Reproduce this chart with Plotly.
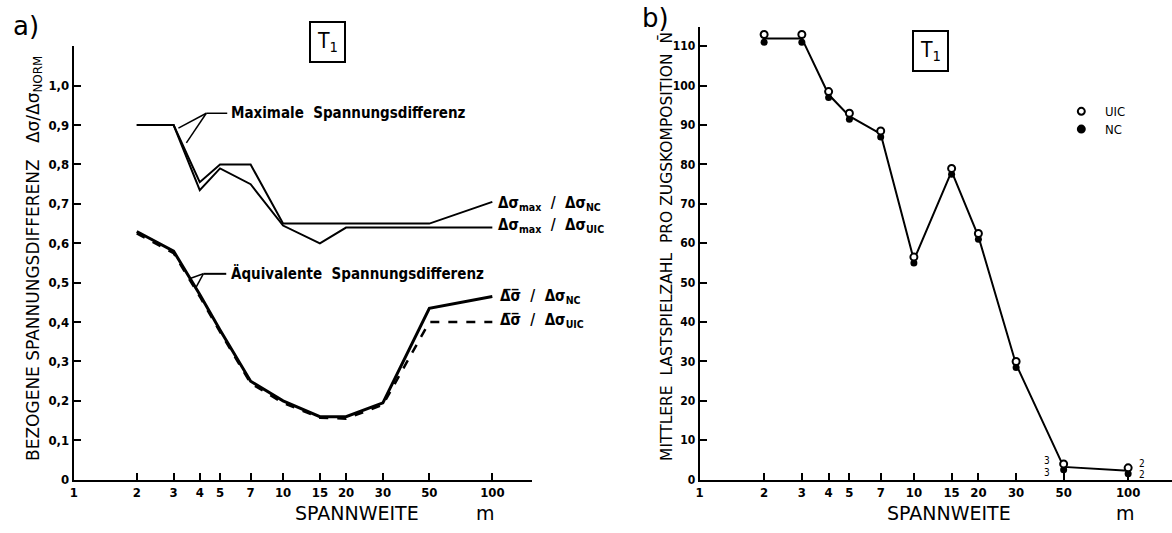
import plotly.graph_objects as go

W, H = 1172, 533

# ---------------- data ----------------
# panel a) bezogene Spannungsdifferenz
span_a = [2, 3, 4, 5, 7, 10, 15, 20, 30, 50, 100]
max_nc = [0.90, 0.90, 0.755, 0.80, 0.80, 0.65, 0.65, 0.65, 0.65, 0.65, 0.705]
max_uic = [0.90, 0.90, 0.735, 0.79, 0.75, 0.645, 0.60, 0.64, 0.64, 0.64, 0.64]
equiv_nc = [0.63, 0.58, 0.47, 0.38, 0.25, 0.20, 0.16, 0.16, 0.195, 0.435, 0.465]
equiv_uic = [0.625, 0.575, 0.465, 0.375, 0.245, 0.195, 0.157, 0.155, 0.19, 0.40, 0.40]

# panel b) mittlere Lastspielzahl pro Zugskomposition
span_b = [2, 3, 4, 5, 7, 10, 15, 20, 30, 50, 100]
n_uic = [113, 113, 98.5, 93, 88.5, 56.5, 79, 62.5, 30, 4, 3]
n_nc = [111, 111, 97, 91.5, 87, 55, 77.5, 61, 28.5, 2.5, 1.5]

x_ticks = [1, 2, 3, 4, 5, 7, 10, 15, 20, 30, 50, 100]
x_ticktext = ["1", "2", "3", "4", "5", "7", "10", "15", "20", "30", "50", "100"]
ya_ticks = [0, 0.1, 0.2, 0.3, 0.4, 0.5, 0.6, 0.7, 0.8, 0.9, 1.0]
ya_ticktext = ["0", "0,1", "0,2", "0,3", "0,4", "0,5", "0,6", "0,7", "0,8", "0,9", "1,0"]
yb_ticks = [0, 10, 20, 30, 40, 50, 60, 70, 80, 90, 100, 110]
yb_ticktext = [str(v) for v in yb_ticks]


def px(x):
    return x / W


def py(y):
    return 1 - y / H


FONT = "DejaVu Sans Condensed"
FONT2 = "DejaVu Sans"
fig = go.Figure()

# ---- panel a traces ----
fig.add_trace(go.Scatter(x=span_a, y=max_nc, mode="lines", line=dict(color="black", width=2),
                         xaxis="x", yaxis="y", showlegend=False))
fig.add_trace(go.Scatter(x=span_a, y=max_uic, mode="lines", line=dict(color="black", width=2),
                         xaxis="x", yaxis="y", showlegend=False))
fig.add_trace(go.Scatter(x=span_a, y=equiv_nc, mode="lines", line=dict(color="black", width=3),
                         xaxis="x", yaxis="y", showlegend=False))
fig.add_trace(go.Scatter(x=span_a, y=equiv_uic, mode="lines",
                         line=dict(color="black", width=2.5, dash="dash"),
                         xaxis="x", yaxis="y", showlegend=False))

# ---- panel b traces ----
n_mean = [(a + b) / 2 for a, b in zip(n_uic, n_nc)]
fig.add_trace(go.Scatter(x=span_b, y=n_mean, mode="lines", line=dict(color="black", width=2),
                         xaxis="x2", yaxis="y2", showlegend=False))
fig.add_trace(go.Scatter(x=span_b, y=n_nc, mode="markers", name="NC",
                         marker=dict(symbol="circle", size=7, color="black"),
                         xaxis="x2", yaxis="y2", showlegend=False))
fig.add_trace(go.Scatter(x=span_b, y=n_uic, mode="markers", name="UIC",
                         marker=dict(symbol="circle", size=7, color="white",
                                     line=dict(color="black", width=2)),
                         xaxis="x2", yaxis="y2", showlegend=False))

axis_common = dict(showgrid=False, zeroline=False, showline=True, linecolor="black", linewidth=2,
                   ticks="inside", ticklen=7, tickwidth=2, tickcolor="black",
                   tickfont=dict(family=FONT, size=13, color="black", weight="bold"))

fig.update_layout(
    width=W, height=H,
    margin=dict(l=0, r=0, t=0, b=0),
    paper_bgcolor="white", plot_bgcolor="white",
    xaxis=dict(type="log", domain=[px(70), px(530)], range=[0, 460 / 210], anchor="y",
               tickvals=x_ticks, ticktext=x_ticktext, **axis_common),
    yaxis=dict(domain=[py(487), py(47)], range=[0, 1.1], anchor="x",
               tickvals=ya_ticks, ticktext=ya_ticktext, **axis_common),
    xaxis2=dict(type="log", domain=[px(698), 1.0], range=[0, 474 / 215], anchor="y2",
                tickvals=x_ticks, ticktext=x_ticktext, **axis_common),
    yaxis2=dict(domain=[py(487), py(27)], range=[0, 115], anchor="x2",
                tickvals=yb_ticks, ticktext=yb_ticktext, ticklabelstandoff=0,
                **axis_common),
    showlegend=False,
)
fig.update_yaxes(tickfont=dict(size=12), selector=dict(anchor="x2"))

ann = []


def text(x, y, t, size=12, xanchor="left", yanchor="middle", angle=0, weight="normal",
         family=FONT):
    ann.append(dict(x=px(x), y=py(y), xref="paper", yref="paper", text=t, showarrow=False,
                    xanchor=xanchor, yanchor=yanchor, textangle=angle, align=xanchor,
                    font=dict(family=family, size=size, color="black", weight=weight)))


# panel labels
text(22, 26, "a)", size=26, xanchor="center", family=FONT2)
text(654, 18, "b)", size=26, xanchor="center", family=FONT2)

# axis titles
text(30, 262, "BEZOGENE SPANNUNGSDIFFERENZ   Δσ/Δσ<sub>NORM</sub>", size=17,
     xanchor="center", angle=-90, family=FONT2)
text(665, 250, "MITTLERE  LASTSPIELZAHL  PRO ZUGSKOMPOSITION  N̄", size=15.5,
     xanchor="center", angle=-90, family=FONT2)
text(354, 521, "SPANNWEITE", size=19, xanchor="center", family=FONT2)
text(483, 521, "m", size=19, xanchor="center", family=FONT2)
text(948, 521, "SPANNWEITE", size=19, xanchor="center", family=FONT2)
text(1125, 521, "m", size=19, xanchor="center", family=FONT2)

# panel a curve labels
text(226, 115, "Maximale  Spannungsdifferenz", size=15, weight="bold")
text(226, 278, "Äquivalente  Spannungsdifferenz", size=15, weight="bold")
text(494, 207, "Δσ<sub>max</sub>  /  Δσ<sub>NC</sub>", size=15, weight="bold")
text(494, 229, "Δσ<sub>max</sub>  /  Δσ<sub>UIC</sub>", size=15, weight="bold")
text(496, 301, "Δ̅σ̅  /  Δσ<sub>NC</sub>", size=15, weight="bold")
text(496, 325, "Δ̅σ̅  /  Δσ<sub>UIC</sub>", size=15, weight="bold")

# legend panel b
text(1103, 113, "UIC", size=13)
text(1103, 131, "NC", size=13)

# small count labels at panel b
text(1047, 468, "3", size=10, xanchor="center")
text(1047, 480, "3", size=10, xanchor="center")
text(1142, 471, "2", size=10, xanchor="center")
text(1142, 482, "2", size=10, xanchor="center")

# T1 boxes
for cx, cy in [(325, 43), (930, 52)]:
    ann.append(dict(x=px(cx), y=py(cy), xref="paper", yref="paper", text="T<sub>1</sub>",
                    showarrow=False, xanchor="center", yanchor="middle",
                    font=dict(family=FONT, size=21, color="black"),
                    bordercolor="black", borderwidth=2, borderpad=6, bgcolor="white"))

fig.update_layout(annotations=ann)

# leader lines (panel a) and legend symbols (panel b)
shapes = []


def seg(x0, y0, x1, y1, w=1.5):
    shapes.append(dict(type="line", xref="paper", yref="paper", x0=px(x0), y0=py(y0),
                       x1=px(x1), y1=py(y1), line=dict(color="black", width=w)))


seg(203, 115, 224, 115)
seg(203, 115, 175, 130)
seg(203, 115, 183, 145)
seg(200, 278, 223, 278, 2)
seg(200, 278, 186, 283)
seg(200, 278, 192, 293)

for cy, fill in [(113, "white"), (131, "black")]:
    shapes.append(dict(type="circle", xref="paper", yref="paper",
                       x0=px(1077.5), x1=px(1084.5), y0=py(cy + 3.5), y1=py(cy - 3.5),
                       fillcolor=fill, line=dict(color="black", width=2)))

fig.update_layout(shapes=shapes)

fig.write_html("out.html", config={"displayModeBar": False},
               post_script="document.body.style.margin='0';document.body.style.padding='0';")
